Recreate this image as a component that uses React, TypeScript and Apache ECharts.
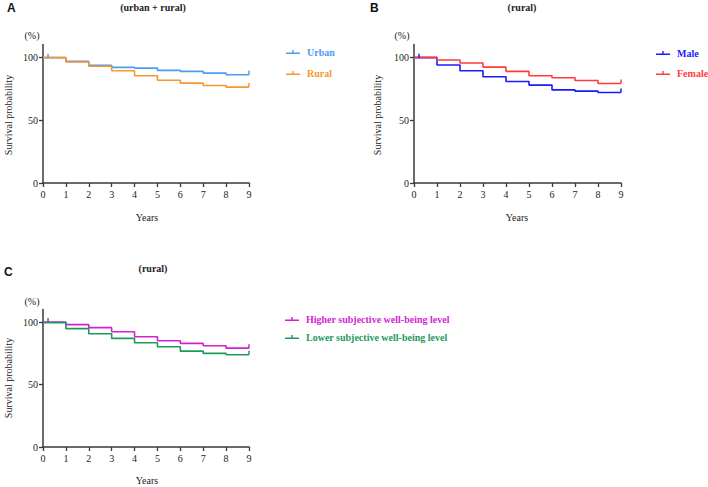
import React, { useEffect, useRef } from "react";
import * as echarts from "echarts";

const years = [0, 1, 2, 3, 4, 5, 6, 7, 8, 9];
const censorYear = 0.22;
const urban = [99.5, 96.5, 93.4, 91.8, 91.2, 89.4, 88.6, 87.2, 85.9];
const rural = [99.5, 96.0, 92.6, 89.1, 85.1, 81.6, 79.3, 77.4, 76.1];
const male = [99.5, 93.6, 89.1, 84.3, 80.6, 77.7, 73.9, 72.9, 71.8];
const female = [99.7, 97.6, 95.2, 92.0, 88.6, 85.1, 83.5, 81.4, 79.0];
const higher = [100, 97.9, 95.5, 92.2, 88.2, 85.0, 82.9, 81.0, 79.1];
const lower = [99.5, 94.7, 90.6, 86.9, 83.4, 80.2, 76.7, 74.9, 73.8];
const yTicks = [0, 50, 100];

const SERIF = "Liberation Serif";
const SANS = "Liberation Sans";
const LEGEND_ICON = "path://M0,6h16v1.6h-16z M7.2,3h1.6v3h-1.6z";

function stepData(vals: number[], censor: boolean) {
  const pts: number[][] = [];
  vals.forEach((v, i) => {
    pts.push([years[i], v]);
    if (i === 0 && censor) pts.push([censorYear, v]);
  });
  pts.push([years[years.length - 1], vals[vals.length - 1]]);
  return pts;
}

function series(name: string, vals: number[], color: string, idx: number, censor: boolean) {
  const data = stepData(vals, censor);
  return {
    name,
    type: "line",
    step: "end",
    xAxisIndex: idx,
    yAxisIndex: idx,
    data,
    color,
    lineStyle: { color, width: 1.6 },
    symbol: (_v: any, p: any) =>
      p.dataIndex === data.length - 1 || (censor && p.dataIndex === 1) ? "rect" : "none",
    symbolSize: [1.5, 4],
    symbolOffset: [0, -2],
    showSymbol: true,
    itemStyle: { color },
    emphasis: { disabled: true },
  };
}

const grids = [
  { left: 43, top: 44.4, width: 206, height: 138.6 },
  { left: 414, top: 44.4, width: 207, height: 138.6 },
  { left: 43, top: 309.5, width: 206, height: 137.5 },
];

const axisLine = { show: true, lineStyle: { color: "#3a3a3a", width: 1.5 } };
const axisTick = { show: true, inside: false, length: 4, lineStyle: { color: "#3a3a3a", width: 1.3 } };
const tickLabel = { color: "#222", fontFamily: SERIF, fontSize: 10 };

function txt(x: number, y: number, text: string, opts: any = {}) {
  return {
    type: "text",
    x,
    y,
    rotation: opts.rotation || 0,
    style: {
      text,
      fill: opts.fill || "#222",
      font: opts.font || `10px ${SERIF}`,
      textAlign: opts.align || "center",
      textVerticalAlign: "middle",
    },
  };
}

function legend(left: number, top: number, items: { name: string; color: string }[], gap: number) {
  return {
    show: true,
    left,
    top,
    orient: "vertical",
    itemGap: gap,
    itemWidth: 14,
    itemHeight: 7,
    icon: LEGEND_ICON,
    selectedMode: false,
    textStyle: { fontFamily: SERIF, fontSize: 10, fontWeight: "bold", padding: [0, 0, 0, 2] },
    data: items.map((it) => ({ name: it.name, textStyle: { color: it.color } })),
  };
}

export default function App() {
  const ref = useRef<HTMLDivElement>(null);
  useEffect(() => {
    if (!ref.current) return;
    const chart = echarts.init(ref.current, undefined, { renderer: "svg" });
    const c = {
      urban: "#4d9cf2",
      rural: "#f7972c",
      male: "#1a1aff",
      female: "#ff3b3b",
      higher: "#d41fd4",
      lower: "#1e9a5e",
    };
    chart.setOption({
      animation: false,
      backgroundColor: "#fff",
      grid: grids,
      xAxis: grids.map((_, i) => ({
        type: "value",
        gridIndex: i,
        min: 0,
        max: 9,
        interval: 1,
        axisLine,
        axisTick,
        splitLine: { show: false },
        axisLabel: { ...tickLabel, margin: 6 },
      })),
      yAxis: grids.map((_, i) => ({
        type: "value",
        gridIndex: i,
        min: 0,
        max: 110,
        axisLine,
        axisTick: { ...axisTick, customValues: yTicks },
        splitLine: { show: false },
        axisLabel: { ...tickLabel, margin: 5, customValues: yTicks },
      })),
      legend: [
        legend(281, 42, [{ name: "Urban", color: c.urban }, { name: "Rural", color: c.rural }], 11),
        legend(651, 43, [{ name: "Male", color: c.male }, { name: "Female", color: c.female }], 10),
        legend(280, 309, [
          { name: "Higher subjective well-being level", color: c.higher },
          { name: "Lower subjective well-being level", color: c.lower },
        ], 8),
      ],
      series: [
        series("Urban", urban, c.urban, 0, true),
        series("Rural", rural, c.rural, 0, false),
        series("Male", male, c.male, 1, true),
        series("Female", female, c.female, 1, false),
        series("Higher subjective well-being level", higher, c.higher, 2, true),
        series("Lower subjective well-being level", lower, c.lower, 2, false),
      ],
      graphic: [
        txt(7, 8, "A", { font: `bold 12px ${SANS}`, align: "left", fill: "#111" }),
        txt(153, 7, "(urban + rural)", { font: `bold 10px ${SERIF}` }),
        txt(32, 35, "(%)"),
        txt(8, 115, "Survival probability", { rotation: Math.PI / 2 }),
        txt(147, 217, "Years"),

        txt(370, 8, "B", { font: `bold 12px ${SANS}`, align: "left", fill: "#111" }),
        txt(522, 7, "(rural)", { font: `bold 10px ${SERIF}` }),
        txt(402, 35, "(%)"),
        txt(377, 115, "Survival probability", { rotation: Math.PI / 2 }),
        txt(517, 217, "Years"),

        txt(4, 272, "C", { font: `bold 12px ${SANS}`, align: "left", fill: "#111" }),
        txt(153, 268, "(rural)", { font: `bold 10px ${SERIF}` }),
        txt(32, 301, "(%)"),
        txt(8, 378, "Survival probability", { rotation: Math.PI / 2 }),
        txt(147, 480, "Years"),
      ],
    });
    return () => chart.dispose();
  }, []);
  return (
    <div
      ref={ref}
      style={{ position: "fixed", left: 0, top: 0, width: 708, height: 487, background: "#fff" }}
    />
  );
}
